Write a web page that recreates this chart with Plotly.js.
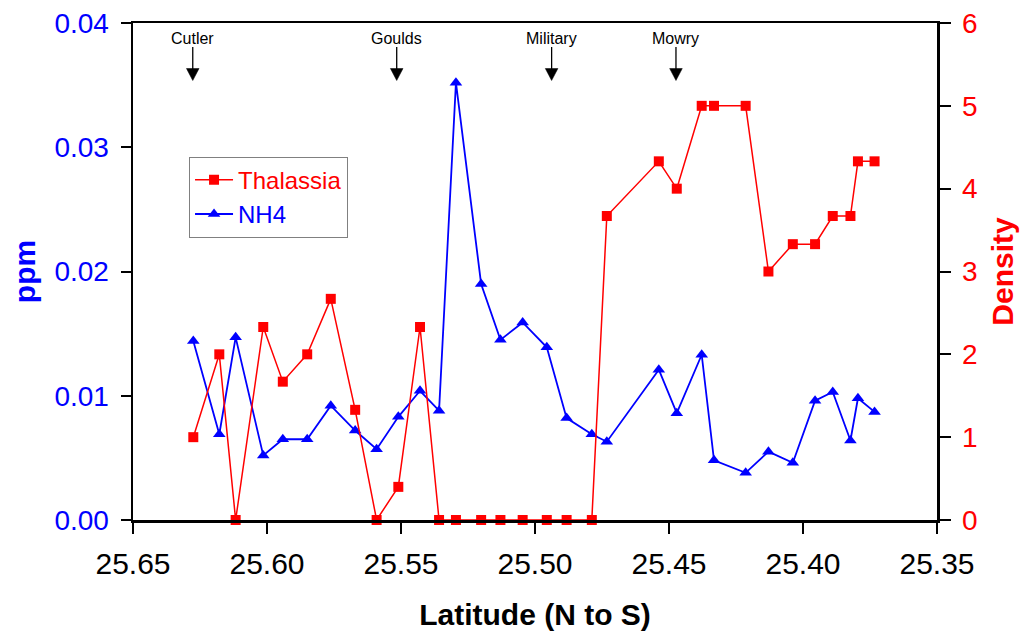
<!DOCTYPE html>
<html>
<head>
<meta charset="utf-8">
<script src="https://cdn.plot.ly/plotly-3.0.1.min.js"></script>
<style>html,body{margin:0;padding:0;background:#fff;}#chart{width:1026px;height:638px;}</style>
</head>
<body>
<div id="chart"></div>
<script>
// Latitude of each sampling site (N to S)
const latitude = [25.6275, 25.6178, 25.6117, 25.6014, 25.5941, 25.5850, 25.5762, 25.5671, 25.5591, 25.5510,
  25.5429, 25.5358, 25.5295, 25.5201, 25.5129, 25.5046, 25.4956, 25.4882, 25.4788, 25.4732,
  25.4538, 25.4471, 25.4378, 25.4332, 25.4214, 25.4129, 25.4038, 25.3955, 25.3889, 25.3823,
  25.3795, 25.3733];
// Thalassia density (right axis)
const thalassiaDensity = [1.0, 2.0, 0, 2.33, 1.67, 2.0, 2.67, 1.33, 0, 0.4,
  2.33, 0, 0, 0, 0, 0, 0, 0, 0, 3.67,
  4.33, 4.0, 5.0, 5.0, 5.0, 3.0, 3.33, 3.33, 3.67, 3.67,
  4.33, 4.33];
// NH4 concentration, ppm (left axis)
const nh4ppm = [0.0144, 0.0069, 0.0147, 0.0052, 0.0065, 0.0065, 0.0092, 0.0072, 0.0057, 0.0083,
  0.0104, 0.0088, 0.0352, 0.0190, 0.0145, 0.0159, 0.0139, 0.0082, 0.0069, 0.0063,
  0.0121, 0.0086, 0.0133, 0.0048, 0.0038, 0.0055, 0.0046, 0.0096, 0.0103, 0.0064,
  0.0098, 0.0087];
const seriesNames = ['Thalassia', 'NH4'];
const stationNames = ['Cutler', 'Goulds', 'Military', 'Mowry'];
const stationLat = [25.6277, 25.5516, 25.4938, 25.4474];

const FONT = 'Arial, "Liberation Sans", sans-serif';
const RED = '#ff0000', BLUE = '#0000ff';

const traces = [
  {
    x: latitude, y: thalassiaDensity, yaxis: 'y2', type: 'scatter', mode: 'lines+markers',
    name: '<span style="color:' + RED + '">' + seriesNames[0] + '</span>',
    line: {color: RED, width: 1.5},
    marker: {symbol: 'square', size: 10, color: RED},
    cliponaxis: false
  },
  {
    x: latitude, y: nh4ppm, yaxis: 'y', type: 'scatter', mode: 'lines+markers',
    name: '<span style="color:' + BLUE + '">' + seriesNames[1] + '</span>',
    line: {color: BLUE, width: 1.8},
    marker: {symbol: 'triangle-up', size: 11, color: BLUE},
    cliponaxis: false
  }
];

const annotations = stationNames.map((s, i) => ({
  x: stationLat[i], xref: 'x', y: 1, yref: 'paper', text: s, showarrow: false,
  yanchor: 'middle', xanchor: 'center', yshift: -15,
  font: {family: FONT, size: 16, color: '#000'}
}));
const shapes = [];
stationLat.forEach(lat => {
  shapes.push({type: 'path', xref: 'x', yref: 'paper', xsizemode: 'pixel', ysizemode: 'pixel',
    xanchor: lat, yanchor: 1, path: 'M0,-24L0,-46', line: {color: '#000', width: 1.3}});
  shapes.push({type: 'path', xref: 'x', yref: 'paper', xsizemode: 'pixel', ysizemode: 'pixel',
    xanchor: lat, yanchor: 1, path: 'M-6.3,-45.5L6.3,-45.5L0,-57.5Z',
    fillcolor: '#000', line: {color: '#000', width: 0.5}});
});

const layout = {
  width: 1026, height: 638,
  margin: {l: 133, r: 89, t: 23, b: 118, pad: 0},
  paper_bgcolor: '#fff', plot_bgcolor: '#fff',
  font: {family: FONT, color: '#000'},
  showlegend: true,
  legend: {
    x: 0.0697, y: 0.731, xanchor: 'left', yanchor: 'top',
    bgcolor: '#fff', bordercolor: '#808080', borderwidth: 1,
    font: {family: FONT, size: 24},
    itemwidth: 38,
    tracegroupgap: 0
  },
  xaxis: {
    range: [25.65, 25.35], tick0: 25.35, dtick: 0.05, tickformat: '.2f',
    ticks: 'outside', ticklen: 11, tickwidth: 2, tickcolor: '#000',
    showline: true, linewidth: 2.5, linecolor: '#000', mirror: true,
    showgrid: false, zeroline: false, ticklabelstandoff: 4,
    tickfont: {family: FONT, size: 30, color: '#000'},
    title: {text: 'Latitude (N to S)', font: {family: FONT, size: 30, color: '#000', weight: 'bold'}, standoff: 26}
  },
  yaxis: {
    range: [0, 0.04], dtick: 0.01, tickformat: '.2f',
    ticks: 'outside', ticklen: 10, tickwidth: 2, tickcolor: '#000',
    showline: true, linewidth: 2.5, linecolor: '#000',
    showgrid: false, zeroline: false, ticklabelstandoff: 6,
    tickfont: {family: FONT, size: 28, color: BLUE},
    title: {text: 'ppm', font: {family: FONT, size: 30, color: BLUE, weight: 'bold'}, standoff: 10}
  },
  yaxis2: {
    range: [0, 6], dtick: 1, overlaying: 'y', side: 'right',
    ticks: 'outside', ticklen: 11, tickwidth: 2, tickcolor: '#000',
    showline: true, linewidth: 2.5, linecolor: '#000',
    showgrid: false, zeroline: false, ticklabelstandoff: 6,
    tickfont: {family: FONT, size: 28, color: RED},
    title: {text: 'Density', font: {family: FONT, size: 30, color: RED, weight: 'bold'}, standoff: 16}
  },
  annotations: annotations,
  shapes: shapes
};

Plotly.newPlot('chart', traces, layout, {displayModeBar: false, staticPlot: true});
</script>
</body>
</html>
